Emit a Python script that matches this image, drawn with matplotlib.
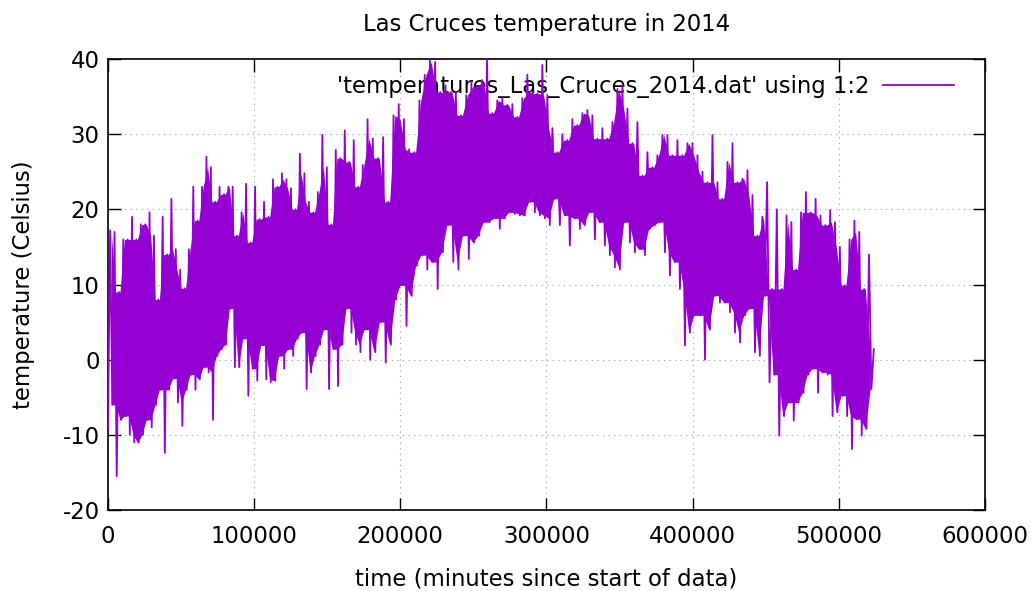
import numpy as np
import matplotlib
matplotlib.use('Agg')
import matplotlib.pyplot as plt

# envelope of the temperature trace (deg C),
# one low/high pair per ~2 days, grouped in six stretches of the year
segment_days = [0, 60.3, 122.1, 183.8, 245.6, 307.4, 365]
samples_per_segment = [29, 29, 25, 26, 26, 25]

highs = [
    17.2, 17.0, 9.0, 16.0, 16.0, 19.0, 16.0, 18.0, 18.0, 19.6,
    16.5, 8.0, 19.0, 14.0, 21.4, 14.7, 12.0, 9.5, 14.7, 23.0,
    18.5, 23.0, 27.0, 25.6, 21.0, 23.0, 22.0, 23.0, 23.0,
    16.5, 19.6, 23.4, 15.6, 23.0, 18.7, 21.0, 19.0, 24.0, 23.0,
    24.8, 24.0, 22.8, 20.0, 27.4, 24.8, 21.0, 19.6, 22.3, 29.9,
    25.6, 18.0, 27.9, 26.8, 30.5, 26.3, 29.2, 23.0, 25.9,
    32.0, 29.4, 26.8, 29.6, 21.0, 32.5, 34.0, 32.0, 28.0, 27.6,
    34.5, 37.9, 39.9, 39.6, 35.6, 36.5, 35.6, 35.6, 32.5, 35.2,
    37.0, 36.3, 37.2, 39.9, 32.8,
    34.5, 34.8, 33.9, 34.0, 32.3, 34.8, 37.9, 35.6, 35.4, 39.2,
    35.2, 30.8, 27.6, 30.0, 29.2, 32.0, 31.2, 32.8, 33.2, 32.5,
    29.4, 30.8, 29.4, 31.6, 36.0, 36.5,
    33.4, 28.8, 31.6, 24.5, 27.6, 25.6, 27.2, 29.9, 29.9, 27.2,
    29.2, 27.2, 28.8, 28.8, 27.2, 25.0, 23.6, 29.9, 23.6, 21.4,
    26.3, 28.8, 23.6, 24.1, 25.2, 21.9,
    16.5, 19.0, 23.6, 9.4, 20.0, 9.4, 19.2, 18.3, 12.0, 19.6,
    22.3, 19.6, 21.4, 19.2, 17.9, 19.9, 18.3, 15.0, 9.9, 16.0,
    18.5, 17.0, 9.4, 14.0, 1.4,
]

lows = [
    -9.2, -6.0, -15.5, -8.0, -7.5, -10.0, -11.0, -11.0, -10.0, -8.0,
    -9.0, -6.0, -4.0, -12.4, -4.0, -2.5, -5.7, -8.8, -4.0, -2.0,
    -4.0, -2.6, -1.0, -1.7, -8.0, 0.5, 1.4, 2.0, 6.8,
    -1.0, -1.0, 2.8, -4.8, -1.2, -2.8, 1.9, -2.6, -3.0, -2.8,
    0.5, -1.2, 1.4, 0.5, 2.8, 3.6, -3.9, -1.7, 0.5, 2.0,
    4.0, -3.9, 1.4, -3.5, 2.0, 6.8, 3.6, 2.0, 1.0,
    4.0, 0.0, 1.0, 5.0, -0.4, 2.0, 8.0, 9.9, 4.5, 8.5,
    12.5, 13.9, 12.0, 13.0, 9.4, 14.3, 17.9, 13.0, 12.0, 16.5,
    13.4, 15.6, 16.5, 18.3, 18.3,
    18.8, 17.4, 18.8, 19.6, 19.4, 19.2, 19.2, 21.0, 19.6, 19.2,
    18.8, 17.9, 21.4, 17.9, 19.2, 15.2, 18.8, 17.4, 17.9, 19.6,
    16.0, 18.3, 15.2, 13.9, 12.3, 12.0,
    18.3, 15.6, 14.3, 14.7, 13.9, 17.4, 17.9, 18.3, 14.3, 11.2,
    13.0, 9.4, 1.9, 3.6, 5.9, 5.9, 0.0, 4.0, 8.5, 7.6,
    7.6, 6.3, 3.6, 2.3, 5.9, 6.8,
    1.0, 0.5, 8.5, -3.0, -2.0, -10.1, -7.5, -5.7, -8.1, -5.7,
    -4.4, -2.0, -1.2, -4.4, -1.7, -2.0, -7.5, -7.0, -4.8, -7.5,
    -11.9, -7.9, -10.1, -9.2, -3.9,
]

# zigzag low -> high through each sample period (minutes since start)
t, temp, t_mid = [], [], []
k = 0
for s, n in enumerate(samples_per_segment):
    d0, d1 = segment_days[s], segment_days[s + 1]
    step = (d1 - d0) / n
    for i in range(n):
        day = d0 + i * step
        t += [day * 1440, (day + step / 2) * 1440]
        temp += [lows[k], highs[k]]
        t_mid.append((day + step / 4) * 1440)
        k += 1

# solid core where neighbouring periods overlap
lo = np.array(lows)
hi = np.array(highs)
core_lo = np.maximum(lo[:-1], lo[1:])
core_hi = np.minimum(hi[:-1], hi[1:])
core_t = (np.array(t_mid[:-1]) + np.array(t_mid[1:])) / 2

color = '#9400d3'
plt.rcParams['font.family'] = 'DejaVu Sans'
plt.rcParams['axes.unicode_minus'] = False

fig = plt.figure(figsize=(10.34, 5.91), dpi=100)
ax = fig.add_axes([0.1044, 0.137, 0.8482, 0.7632])

ax.fill_between(core_t, core_lo, np.maximum(core_lo, core_hi),
                color=color, lw=0, zorder=3)
ax.plot(t, temp, color=color, lw=1.3, zorder=3,
        label="'temperatures_Las_Cruces_2014.dat' using 1:2")

ax.set_xlim(0, 600000)
ax.set_ylim(-20, 40)
ax.set_xticks(np.arange(0, 600001, 100000))
ax.set_yticks(np.arange(-20, 41, 10))
ax.tick_params(direction='in', length=9, width=1, top=True, right=True,
               labelsize=16.4)
ax.tick_params(axis='x', pad=11)
ax.tick_params(axis='y', pad=6)
ax.grid(True, linestyle=(0, (1, 4)), color='#999999', lw=0.8)
for sp in ax.spines.values():
    sp.set_linewidth(1.2)

ax.set_title('Las Cruces temperature in 2014', fontsize=16.4, pad=20)
ax.set_xlabel('time (minutes since start of data)', fontsize=16.4, labelpad=14)
ax.set_ylabel('temperature (Celsius)', fontsize=16.4, labelpad=20)

leg = ax.legend(loc='upper right', bbox_to_anchor=(0.975, 0.985),
                borderaxespad=0, frameon=False, markerfirst=False,
                handlelength=3.1, handletextpad=0.6, fontsize=16.4)
leg.set_zorder(2)

fig.savefig('out.png', dpi=100)
